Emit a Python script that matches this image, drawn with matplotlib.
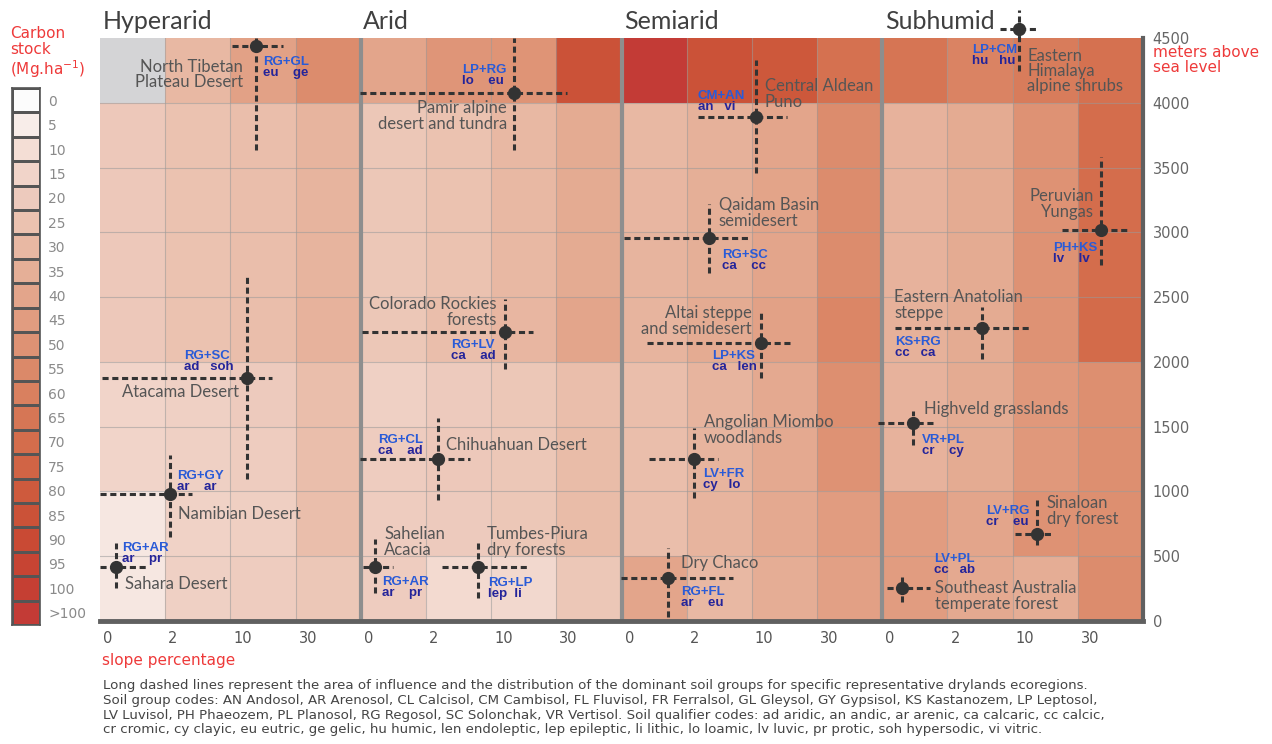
import numpy as np
import matplotlib.pyplot as plt
from matplotlib.colors import LinearSegmentedColormap, Normalize
import matplotlib.transforms as mtransforms

# carbon stock per cell (Mg/ha), rows from 0-500 m up to 4000-4500 m,
# columns = slope classes 0-2, 2-10, 10-30, >30
hyperarid_stock = [[7, 17, 19, 22],
                   [7, 16, 18, 27],
                   [15, 17, 19, 27],
                   [15, 17, 20, 27],
                   [21, 25, 27, 33],
                   [21, 25, 27, 32],
                   [21, 25, 27, 32],
                   [21, 25, 27, 32],
                   [np.nan, 30, 42, 53]]
arid_stock = [[19, 12, 13, 22],
              [19, 20, 22, 28],
              [19, 21, 22, 28],
              [17, 20, 22, 27],
              [22, 27, 31, 40],
              [22, 25, 30, 37],
              [22, 25, 30, 37],
              [22, 25, 30, 37],
              [40, 48, 49, 85]]
semiarid_stock = [[40, 30, 36, 43],
                  [27, 32, 38, 45],
                  [27, 32, 38, 50],
                  [27, 32, 38, 52],
                  [32, 37, 42, 57],
                  [32, 35, 40, 53],
                  [31, 35, 41, 53],
                  [30, 34, 40, 53],
                  [105, 85, 82, 68]]
subhumid_stock = [[45, 38, 36, 53],
                  [45, 40, 50, 52],
                  [33, 37, 47, 52],
                  [33, 37, 47, 52],
                  [34, 37, 50, 71],
                  [33, 37, 50, 70],
                  [33, 37, 50, 70],
                  [33, 37, 50, 70],
                  [66, 58, 62, 68]]

zones = ['Hyperarid', 'Arid', 'Semiarid', 'Subhumid']
slope_labels = ['0', '2', '10', '30']
elev_ticks = [0, 500, 1000, 1500, 2000, 2500, 3000, 3500, 4000, 4500]
legend_values = [0, 5, 10, 15, 20, 25, 30, 35, 40, 45, 50, 55, 60, 65, 70, 75, 80, 85, 90, 95, 100, 105]
legend_labels = ['0', '5', '10', '15', '20', '25', '30', '35', '40', '45', '50', '55', '60', '65',
                 '70', '75', '80', '85', '90', '95', '100', '>100']

# ecoregions: position on the chart (slope column units, m) and extent of influence
eco_names = ['North Tibetan\nPlateau Desert', 'Atacama Desert', 'Namibian Desert', 'Sahara Desert',
             'Pamir alpine\ndesert and tundra', 'Colorado Rockies\nforests', 'Chihuahuan Desert',
             'Sahelian\nAcacia', 'Tumbes-Piura\ndry forests',
             'Central Aldean\nPuno', 'Qaidam Basin\nsemidesert', 'Altai steppe\nand semidesert',
             'Angolian Miombo\nwoodlands', 'Dry Chaco',
             'Eastern\nHimalaya\nalpine shrubs', 'Peruvian\nYungas', 'Eastern Anatolian\nsteppe',
             'Highveld grasslands', 'Sinaloan\ndry forest', 'Southeast Australia\ntemperate forest']
eco_x = [2.39, 2.255, 1.074, 0.245, 6.35, 6.21, 5.185, 4.22, 5.80,
         10.06, 9.34, 10.14, 9.11, 8.71, 14.10, 15.36, 13.53, 12.47, 14.37, 12.30]
eco_y = [4440, 1876, 980, 417, 4076, 2231, 1250, 417, 417,
         3890, 2956, 2146, 1250, 332, 4570, 3018, 2262, 1528, 672, 255]
eco_xlo = [2.02, 0.03, 0.0, 0.0, 3.99, 4.02, 3.99, 4.03, 5.25,
           9.17, 8.04, 8.39, 8.42, 7.99, 13.81, 14.76, 12.19, 11.93, 14.03, 12.07]
eco_xhi = [2.81, 2.64, 1.41, 0.74, 7.16, 6.65, 5.68, 4.50, 6.57,
           10.54, 9.95, 10.63, 9.48, 9.71, 14.39, 15.80, 14.27, 12.78, 14.60, 12.73]
eco_ylo = [3636, 1096, 648, 255, 3636, 1945, 934, 216, 178,
           3458, 2686, 1876, 949, 31, 4245, 2748, 2023, 1359, 587, 147]
eco_yhi = [4500, 2663, 1281, 602, 4500, 2485, 1567, 633, 602,
           4330, 3219, 2400, 1490, 563, 4716, 3582, 2424, 1621, 934, 340]
soil_groups = ['RG+GL', 'RG+SC', 'RG+GY', 'RG+AR', 'LP+RG', 'RG+LV', 'RG+CL', 'RG+AR', 'RG+LP',
               'CM+AN', 'RG+SC', 'LP+KS', 'LV+FR', 'RG+FL', 'LP+CM', 'PH+KS', 'KS+RG', 'VR+PL',
               'LV+RG', 'LV+PL']
soil_quals = ['eu    ge', 'ad   soh', 'ar    ar', 'ar    pr', 'lo    eu', 'ca    ad', 'ca    ad',
              'ar    pr', 'lep  li', 'an   vi', 'ca    cc', 'ca   len', 'cy   lo', 'ar    eu',
              'hu   hu', 'lv    lv', 'cc   ca', 'cr    cy', 'cr    eu', 'cc   ab']

# label placement (pixels from the marker)
name_off = [(-13, -29, 'right'), (-125, -14, 'left'), (8, -20, 'left'), (9, -17, 'left'),
            (-7, -23, 'right'), (-8, 20, 'right'), (8, 14, 'left'), (9, 25, 'left'), (9, 25, 'left'),
            (9, 23, 'left'), (10, 25, 'left'), (-9, 22, 'right'), (10, 29, 'left'), (13, 15, 'left'),
            (8, -42, 'left'), (-7, 26, 'right'), (-88, 23, 'left'), (11, 14, 'left'), (10, 23, 'left'),
            (33, -8, 'left')]
soil_off = [(7, -16), (-63, 22), (7, 18), (6, 19), (-52, 23), (-54, -13), (-60, 19), (7, -15),
            (10, -16), (-58, 21), (13, -17), (-49, -13), (9, -15), (13, -14), (-47, -21),
            (-48, -18), (-87, -14), (9, -17), (-51, 23), (32, 29)]

red = '#ee3a3a'
txt = '#555555'
plt.rcParams['font.family'] = ['Lato', 'DejaVu Sans']

stops = [0, 10, 20, 30, 40, 50, 60, 70, 80, 90, 100, 105]
stop_colors = ['#fcfcfc', '#f4ded5', '#edcabc', '#e8b8a3', '#e3a58b', '#de9274', '#d9805f',
               '#d46d4c', '#ce5b3d', '#c94a34', '#c53f33', '#c33b36']
cmap = LinearSegmentedColormap.from_list('carbon', list(zip(np.array(stops) / 105, stop_colors)))
cmap.set_bad('#d4d4d6')
norm = Normalize(0, 105)

fig = plt.figure(figsize=(12.72, 7.44), dpi=100)
ax = fig.add_axes([100 / 1272, 123 / 744, 1043 / 1272, 583 / 744])

stock = np.hstack([np.array(hyperarid_stock), np.array(arid_stock),
                   np.array(semiarid_stock), np.array(subhumid_stock)])
xe = np.arange(17)
ye = np.array(elev_ticks)
ax.pcolormesh(xe, ye, np.ma.masked_invalid(stock), cmap=cmap, norm=norm)

# thin grid between cells
for x in range(1, 16):
    if x % 4:
        ax.axvline(x, color='#9a9a9a', lw=0.8, alpha=0.55)
for y in elev_ticks[1:-1]:
    ax.axhline(y, color='#9a9a9a', lw=0.8, alpha=0.55)
for x in [4, 8, 12]:
    ax.axvline(x, color='#8e8e8e', lw=3)

ax.set_xlim(0, 16)
ax.set_ylim(0, 4500)
for s in ['left', 'top']:
    ax.spines[s].set_visible(False)
ax.spines['right'].set_color('#606060')
ax.spines['right'].set_linewidth(3)
ax.spines['bottom'].set_color('#606060')
ax.spines['bottom'].set_linewidth(3.5)

ax.yaxis.tick_right()
ax.set_yticks(elev_ticks)
ax.set_yticklabels([str(v) for v in elev_ticks], family='DejaVu Sans')
ax.tick_params(axis='y', length=0, pad=7, labelsize=10.5, labelcolor='#666666')
ax.set_xticks(range(16))
ax.set_xticklabels(slope_labels * 4, family='DejaVu Sans')
ax.tick_params(axis='x', length=0, pad=7, labelsize=10.5, labelcolor='#555555')
shift = mtransforms.ScaledTranslation(3 / 100, 0, fig.dpi_scale_trans)
for lab in ax.get_xticklabels():
    lab.set_ha('left')
    lab.set_transform(lab.get_transform() + shift)

for i, z in enumerate(zones):
    ax.text(i * 4 + 0.04, 4624, z, fontsize=18, color='#404040',
            va='center', ha='left', clip_on=False)

# ecoregions
for i in range(len(eco_names)):
    ls = (0, (2, 1.2))
    ax.plot([eco_xlo[i], eco_xhi[i]], [eco_y[i], eco_y[i]], color='#333333', lw=2.2, ls=ls, clip_on=False)
    ax.plot([eco_x[i], eco_x[i]], [eco_ylo[i], eco_yhi[i]], color='#333333', lw=2.2, ls=ls, clip_on=False)
    ax.plot(eco_x[i], eco_y[i], 'o', color='#333333', ms=8.5, clip_on=False, zorder=5)
    dx, dy, ha = name_off[i]
    ax.annotate(eco_names[i], (eco_x[i], eco_y[i]), xytext=(dx, dy), textcoords='offset pixels',
                ha=ha, va='center', fontsize=12, color=txt, linespacing=0.95,
                annotation_clip=False)
    sx, sy = soil_off[i]
    ax.annotate(soil_groups[i], (eco_x[i], eco_y[i]), xytext=(sx, sy), textcoords='offset pixels',
                ha='left', va='center', fontsize=9.5, fontweight='bold', color='#2a5bd7',
                family='Liberation Sans', annotation_clip=False)
    ax.annotate(soil_quals[i], (eco_x[i], eco_y[i]), xytext=(sx, sy - 11), textcoords='offset pixels',
                ha='left', va='center', fontsize=9.5, fontweight='bold', color='#24249a',
                family='Liberation Sans', annotation_clip=False)

# carbon stock legend
lax = fig.add_axes([12 / 1272, 119 / 744, 28 / 1272, 537 / 744])
n = len(legend_values)
lax.pcolormesh([0, 1], np.arange(n + 1), np.array(legend_values[::-1]).reshape(-1, 1),
               cmap=cmap, norm=norm, edgecolors='#555555', linewidth=0.8)
lax.set_xlim(0, 1)
lax.set_ylim(0, n)
lax.set_xticks([])
lax.yaxis.tick_right()
lax.set_yticks(np.arange(n) + 0.5)
lax.set_yticklabels(legend_labels[::-1], family='DejaVu Sans')
for lab in lax.get_yticklabels():
    lab.set_ha('left')
lax.tick_params(axis='y', length=0, pad=6, labelsize=10, labelcolor='#8a8a8a')
for s in lax.spines.values():
    s.set_color('#555555')
    s.set_linewidth(1.2)

fig.text(10 / 1272, 1 - 53 / 744, 'Carbon\nstock\n(Mg.ha$^{-1}$)', color=red, fontsize=11,
         family='DejaVu Sans', va='center', ha='left', linespacing=1.05)
fig.text(1153 / 1272, 1 - 60 / 744, 'meters above\nsea level', color=red, fontsize=11,
         family='DejaVu Sans', va='center', ha='left', linespacing=1.0)
fig.text(102 / 1272, 1 - 660 / 744, 'slope percentage', color=red, fontsize=11,
         family='DejaVu Sans', va='center', ha='left')

note = ("Long dashed lines represent the area of influence and the distribution of the dominant soil groups "
        "for specific representative drylands ecoregions.\n"
        "Soil group codes: AN Andosol, AR Arenosol, CL Calcisol, CM Cambisol, FL Fluvisol, FR Ferralsol, "
        "GL Gleysol, GY Gypsisol, KS Kastanozem, LP Leptosol,\n"
        "LV Luvisol, PH Phaeozem, PL Planosol, RG Regosol, SC Solonchak, VR Vertisol. Soil qualifier codes: "
        "ad aridic, an andic, ar arenic, ca calcaric, cc calcic,\n"
        "cr cromic, cy clayic, eu eutric, ge gelic, hu humic, len endoleptic, lep epileptic, li lithic, "
        "lo loamic, lv luvic, pr protic, soh hypersodic, vi vitric.")
fig.text(103 / 1272, 1 - 679 / 744, note, fontsize=9.6, color='#444444', family='DejaVu Sans',
         va='top', ha='left', linespacing=1.18)

fig.savefig('out.png', dpi=100)
